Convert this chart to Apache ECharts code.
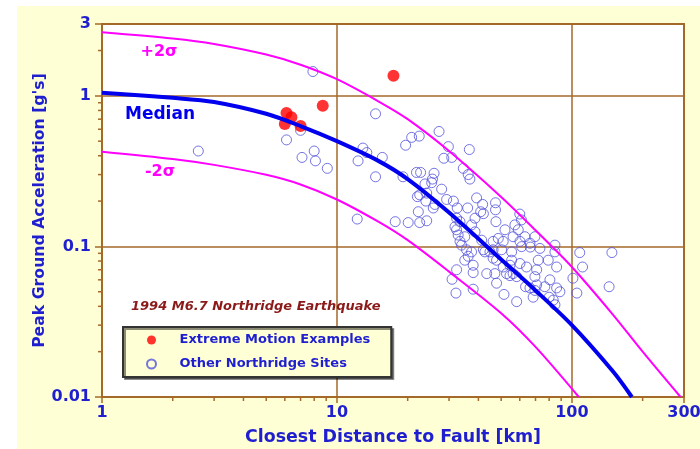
<!DOCTYPE html>
<html>
<head>
<meta charset="utf-8">
<script src="https://cdn.jsdelivr.net/npm/echarts@6/dist/echarts.min.js"></script>
<style>
  html, body { margin: 0; padding: 0; background: #fff; }
  #wrap { position: relative; width: 700px; height: 449px; }
  #paper { position: absolute; left: 17px; top: 6px; right: 0; bottom: 0; background: #ffffd6; }
  #chart { position: absolute; left: 0; top: 0; width: 700px; height: 449px; }
</style>
</head>
<body>
<div id="wrap"><div id="paper"></div><div id="chart"></div></div>
<script>
const BROWN = '#a5692a';
const BLUE = '#1f1fd0';
const FONT = '"DejaVu Sans", Verdana, sans-serif';

// attenuation curves
const medianDist = [1, 2, 3, 5, 7, 10, 15, 20, 30, 50, 70, 100, 150, 180];
const medianPga = [1.05, 0.97, 0.91, 0.76, 0.63, 0.50, 0.37, 0.28, 0.168, 0.082, 0.051, 0.030, 0.0147, 0.010];
const plusDist = [1, 2, 3, 5, 7, 10, 15, 20, 30, 50, 70, 100, 150, 200, 290];
const plusPga = [2.64, 2.40, 2.21, 1.88, 1.61, 1.29, 0.92, 0.70, 0.43, 0.213, 0.128, 0.073, 0.035, 0.020, 0.010];
const minusDist = [1, 2, 3, 5, 7, 10, 15, 20, 30, 50, 70, 107];
const minusPga = [0.426, 0.381, 0.348, 0.299, 0.258, 0.205, 0.146, 0.110, 0.068, 0.036, 0.0215, 0.010];

// red dots
const extremeDist = [6.1, 6.4, 6.0, 7.0, 8.7, 17.4];
const extremePga = [0.77, 0.72, 0.65, 0.63, 0.86, 1.36];

// open circles
const otherDist = [7.9, 6.1, 7.0, 2.57, 8.0, 7.1, 8.1, 9.1, 14.6, 27.2, 20.8, 22.4, 19.6, 29.8, 12.9, 13.4, 15.6, 12.3, 28.5, 30.8,
  36.6, 34.5, 14.6, 19.1, 21.8, 22.7, 25.9, 25.5, 23.7, 25.3, 27.9, 22.5, 23.9, 31.3, 36.2, 36.8, 29.3, 26.1, 25.7, 39.3,
  41.7, 47.3, 47.3, 32.5, 36.0, 22.2, 40.9, 42.0, 60, 61, 12.2, 17.7, 20.1, 22.5, 24.1, 32.3, 33.4, 38.7, 47.5, 22.0,
  24.1, 31.8, 32.3, 32.8, 35.0, 33.4, 33.9, 37.4, 36.2, 41.3, 42, 44.8, 48.6, 47.8, 51.9, 57.2, 59.1, 56.2, 63.1, 69.6,
  60.1, 66.3, 37.4, 38.7, 46.2, 51.0, 42.6, 46.2, 50.2, 55.4, 61.1, 66.5, 73.1, 84.7, 84.7, 35.6, 55.4, 71.9, 79.3, 35.0,
  38.0, 46.2, 32.3, 30.9, 38.0, 43.4, 47.0, 51.0, 52.7, 54.5, 56.2, 58.2, 54.5, 60.1, 64.1, 47.8, 38.0, 32.1, 51.4, 58.2,
  66.3, 69.6, 68.4, 70.8, 69.6, 108, 148, 86.1, 111, 101, 80.6, 76.7, 70.8, 86.1, 88.9, 105, 144, 83.3, 84.7, 63.5, 80];
const otherPga = [1.45, 0.51, 0.59, 0.43, 0.43, 0.39, 0.37, 0.33, 0.76, 0.58, 0.53, 0.54, 0.47, 0.46, 0.45, 0.42, 0.39, 0.37, 0.385, 0.39,
  0.44, 0.33, 0.29, 0.29, 0.31, 0.31, 0.306, 0.28, 0.26, 0.265, 0.24, 0.22, 0.20, 0.20, 0.30, 0.28, 0.205, 0.19, 0.18, 0.21,
  0.19, 0.195, 0.175, 0.18, 0.18, 0.17, 0.17, 0.165, 0.164, 0.15, 0.152, 0.146, 0.144, 0.144, 0.148, 0.154, 0.146, 0.154, 0.146, 0.214,
  0.226, 0.135, 0.129, 0.119, 0.116, 0.108, 0.102, 0.092, 0.086, 0.11, 0.095, 0.092, 0.113, 0.081, 0.129, 0.139, 0.129, 0.116, 0.116, 0.116,
  0.108, 0.105, 0.139, 0.125, 0.108, 0.108, 0.092, 0.095, 0.095, 0.092, 0.0997, 0.099, 0.097, 0.102, 0.092, 0.095, 0.081, 0.081, 0.081, 0.081,
  0.075, 0.0835, 0.070, 0.0605, 0.067, 0.066, 0.066, 0.073, 0.066, 0.064, 0.066, 0.063, 0.075, 0.077, 0.073, 0.057, 0.052, 0.049, 0.048, 0.043,
  0.053, 0.051, 0.046, 0.070, 0.063, 0.091, 0.091, 0.073, 0.073, 0.0615, 0.060, 0.054, 0.0555, 0.053, 0.050, 0.049, 0.054, 0.044, 0.041, 0.054, 0.046];

// minor tick positions on the log axes
const xMinorTicks = [2, 3, 4, 5, 6, 7, 8, 9, 20, 30, 40, 50, 60, 70, 80, 90, 200];
const yMinorTicks = [0.02, 0.03, 0.04, 0.05, 0.06, 0.07, 0.08, 0.09, 0.2, 0.3, 0.4, 0.5, 0.6, 0.7, 0.8, 0.9, 2];

const X_MIN = 1, X_MAX = 300, Y_MIN = 0.01, Y_MAX = 3;

const zip = (a, b) => a.map((v, i) => [v, b[i]]);

const tickItem = (dx, dy) => (params, api) => {
  const p = api.coord([api.value(0), api.value(1)]);
  return {
    type: 'line',
    shape: { x1: p[0], y1: p[1], x2: p[0] + dx, y2: p[1] + dy },
    style: { stroke: BROWN, lineWidth: 1.5 }
  };
};

const myChart = echarts.init(document.getElementById('chart'));

const option = {
  animation: false,
  title: {
    text: '1994 M6.7 Northridge Earthquake',
    left: 131,
    top: 300,
    padding: 0,
    textStyle: { color: '#8b1a1a', fontStyle: 'italic', fontWeight: 'bold', fontSize: 13, fontFamily: FONT }
  },
  legend: {
    orient: 'vertical',
    left: 123,
    top: 327,
    selectedMode: false,
    data: ['Extreme Motion Examples', 'Other Northridge Sites'],
    itemWidth: 46,
    itemHeight: 9,
    itemGap: 8,
    padding: [5, 21, 5, 23],
    backgroundColor: '#ffffd6',
    borderColor: '#333',
    borderWidth: 2,
    shadowColor: 'rgba(0,0,0,0.45)',
    shadowOffsetX: 2,
    shadowOffsetY: 2,
    textStyle: { color: BLUE, fontWeight: 'bold', fontSize: 13, fontFamily: FONT, lineHeight: 16 }
  },
  grid: {
    left: 102,
    right: 16,
    top: 24,
    bottom: 52,
    outerBoundsMode: 'none',
    show: true,
    backgroundColor: '#fff',
    borderColor: BROWN,
    borderWidth: 2
  },
  xAxis: {
    type: 'log',
    logBase: 10,
    min: X_MIN,
    max: X_MAX,
    name: 'Closest Distance to Fault [km]',
    nameLocation: 'middle',
    nameGap: 32,
    nameMoveOverlap: false,
    nameTextStyle: { color: BLUE, fontWeight: 'bold', fontSize: 17.4, fontFamily: FONT },
    axisLine: { lineStyle: { color: BROWN, width: 2 } },
    axisTick: { length: 6, lineStyle: { color: BROWN, width: 1.5 } },
    axisLabel: { color: BLUE, fontWeight: 'bold', fontSize: 16, fontFamily: FONT, margin: 8 },
    splitLine: { show: true, lineStyle: { color: BROWN, width: 1.5 } }
  },
  yAxis: {
    type: 'log',
    logBase: 10,
    min: Y_MIN,
    max: Y_MAX,
    name: "Peak Ground Acceleration [g's]",
    nameLocation: 'middle',
    nameGap: 54,
    nameMoveOverlap: false,
    nameRotate: 90,
    nameTextStyle: { color: BLUE, fontWeight: 'bold', fontSize: 15.7, fontFamily: FONT },
    axisLine: { lineStyle: { color: BROWN, width: 2 } },
    axisTick: { length: 7, lineStyle: { color: BROWN, width: 1.5 } },
    axisLabel: { color: BLUE, fontWeight: 'bold', fontSize: 16, fontFamily: FONT, margin: 11 },
    splitLine: { show: true, lineStyle: { color: BROWN, width: 1.5 } }
  },
  graphic: [
    { type: 'text', x: 159, y: 52, style: { text: '+2σ', fill: '#ff00ff', font: 'bold 16px ' + FONT, align: 'center', verticalAlign: 'middle' } },
    { type: 'text', x: 160, y: 115, style: { text: 'Median', fill: '#0000ee', font: 'bold 17px ' + FONT, align: 'center', verticalAlign: 'middle' } },
    { type: 'text', x: 160, y: 172, style: { text: '-2σ', fill: '#ff00ff', font: 'bold 16px ' + FONT, align: 'center', verticalAlign: 'middle' } }
  ],
  series: [
    {
      name: 'Other Northridge Sites',
      type: 'scatter',
      symbol: 'circle',
      symbolSize: 10,
      itemStyle: { color: 'transparent', borderColor: '#5252dc', borderWidth: 1 },
      data: zip(otherDist, otherPga)
    },
    {
      name: '-2 sigma',
      type: 'line',
      smooth: 0.3,
      showSymbol: false,
      lineStyle: { color: '#ff00ff', width: 2 },
      data: zip(minusDist, minusPga)
    },
    {
      name: '+2 sigma',
      type: 'line',
      smooth: 0.3,
      showSymbol: false,
      lineStyle: { color: '#ff00ff', width: 2 },
      data: zip(plusDist, plusPga)
    },
    {
      name: 'Median',
      type: 'line',
      smooth: 0.3,
      showSymbol: false,
      lineStyle: { color: '#0000ee', width: 4 },
      data: zip(medianDist, medianPga)
    },
    {
      name: 'Extreme Motion Examples',
      type: 'scatter',
      symbol: 'circle',
      symbolSize: 12,
      itemStyle: { color: '#ff0000' },
      data: zip(extremeDist, extremePga)
    },
    {
      name: 'x minor ticks',
      type: 'custom',
      silent: true,
      clip: false,
      z: 5,
      renderItem: tickItem(0, 4),
      data: xMinorTicks.map(v => [v, Y_MIN])
    },
    {
      name: 'y minor ticks',
      type: 'custom',
      silent: true,
      clip: false,
      z: 5,
      renderItem: tickItem(-4, 0),
      data: yMinorTicks.map(v => [X_MIN, v])
    }
  ]
};

option && myChart.setOption(option);
</script>
</body>
</html>
